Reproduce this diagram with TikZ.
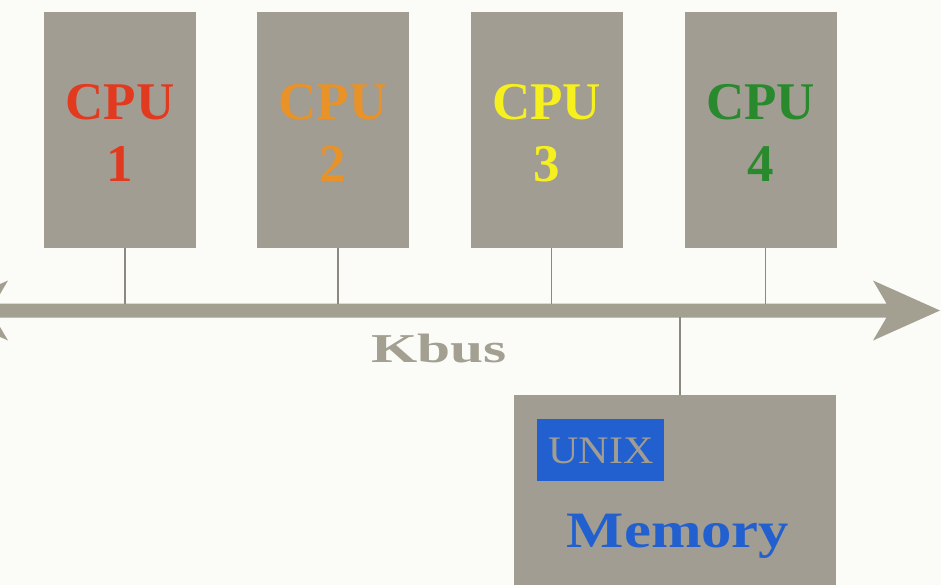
\documentclass[tikz,border=0pt]{standalone}
\usepackage{fontspec}
\setmainfont{Liberation Serif}
\definecolor{paper}{RGB}{251,251,248}
\definecolor{boxgray}{RGB}{161,157,146}
\definecolor{busgray}{RGB}{163,160,145}
\definecolor{wiregray}{RGB}{140,137,128}
\definecolor{cpured}{RGB}{226,58,30}
\definecolor{cpuorange}{RGB}{232,146,40}
\definecolor{cpuyellow}{RGB}{246,240,30}
\definecolor{cpugreen}{RGB}{40,138,44}
\definecolor{memblue}{RGB}{34,96,208}
\tikzset{
  unitbox/.style={fill=boxgray, draw=none, inner sep=0pt},
  cpubox/.style={unitbox, minimum width=152pt, minimum height=236pt},
  wire/.style={draw=wiregray, line width=1.2pt},
  cputext/.style={anchor=base, font=\fontsize{53}{53}\selectfont\bfseries, inner sep=0pt},
}
\begin{document}
\begin{tikzpicture}[x=1pt,y=-1pt]
  \useasboundingbox (0,0) rectangle (941,585);
  \fill[paper] (0,0) rectangle (941,585);
  \clip (0,0) rectangle (941,585);

  % processor boards
  \node[cpubox] (cpu1) at (120,130) {};
  \node[cpubox] (cpu2) at (333,130) {};
  \node[cpubox] (cpu3) at (546.5,130) {};
  \node[cpubox] (cpu4) at (760.5,130) {};

  \node[cputext, text=cpured]    (l1a) at (120,120) {CPU};
  \node[cputext, text=cpured]    (l1b) at (120,182) {1};
  \node[cputext, text=cpuorange] (l2a) at (333,120) {CPU};
  \node[cputext, text=cpuorange] (l2b) at (333,182) {2};
  \node[cputext, text=cpuyellow] (l3a) at (546.5,120) {CPU};
  \node[cputext, text=cpuyellow] (l3b) at (546.5,182) {3};
  \node[cputext, text=cpugreen]  (l4a) at (760.5,120) {CPU};
  \node[cputext, text=cpugreen]  (l4b) at (760.5,182) {4};

  % the bus: a double-headed arrow
  \fill[busgray] (940,310.5) -- (873,280.5) -- (886.5,303.5) -- (-5.5,303.5)
    -- (8,280.5) -- (-59,310.5) -- (8,340.5) -- (-5.5,317.5) -- (886.5,317.5)
    -- (873,340.5) -- cycle;
  \coordinate (bus) at (0,304);
  \node[anchor=base, inner sep=0pt, text=busgray,
        font=\fontsize{41}{41}\selectfont\bfseries] (kbus) at (439,362)
        {\scalebox{1.45}[1]{Kbus}};

  % memory board
  \node[unitbox, minimum width=322pt, minimum height=200pt] (mem) at (675,495) {};
  \node[fill=memblue, inner sep=0pt, minimum width=127pt, minimum height=62pt] (unix) at (600.5,450) {};
  \node[anchor=base, inner sep=0pt, text=boxgray,
        font=\fontsize{39}{39}\selectfont] (unixt) at (601,463)
        {\scalebox{1.08}[1]{UNIX}};
  \node[anchor=base, inner sep=0pt, text=memblue,
        font=\fontsize{51}{51}\selectfont\bfseries] (memt) at (678,547)
        {\scalebox{1.19}[1]{Memory}};

  % taps from the boards onto the bus
  \coordinate (t1) at ([xshift=5pt]cpu1.south);
  \coordinate (t2) at ([xshift=5pt]cpu2.south);
  \coordinate (t3) at ([xshift=5pt]cpu3.south);
  \coordinate (t4) at ([xshift=5pt]cpu4.south);
  \draw[wire] (t1) -- (t1 |- bus);
  \draw[wire] (t2) -- (t2 |- bus);
  \draw[wire] (t3) -- (t3 |- bus);
  \draw[wire] (t4) -- (t4 |- bus);
  \coordinate (tm) at ([xshift=5pt]mem.north);
  \coordinate (busb) at (0,317);
  \draw[wire] (tm) -- (tm |- busb);
\end{tikzpicture}
\end{document}
